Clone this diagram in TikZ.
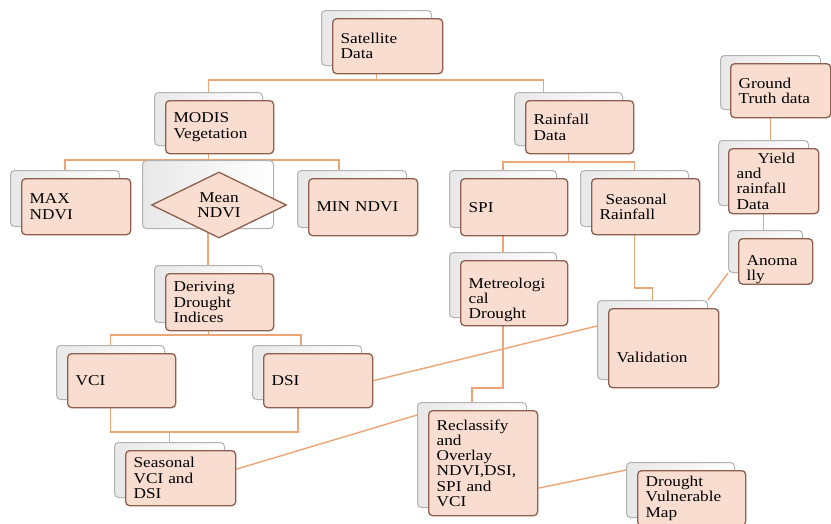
\documentclass[tikz,border=0pt]{standalone}
\usepackage{fontspec}
\setmainfont{Liberation Serif}[FakeStretch=1.15]
\usetikzlibrary{shapes.geometric,positioning,backgrounds}
\definecolor{boxfill}{RGB}{249,221,208}
\definecolor{boxline}{RGB}{140,96,76}
\definecolor{connline}{RGB}{236,165,118}
\newcommand{\boxfont}{\fontsize{15}{15.3}\selectfont}
\begin{document}
\begin{tikzpicture}[x=1pt,y=-1pt,
    conn/.style={draw=connline, line width=1.4pt},
    backbox/.style 2 args={draw=black!30, left color=black!9, right color=white, rounded corners=4pt, line width=1pt,
        anchor=north west, inner sep=0pt, minimum width=#1pt, minimum height=#2pt},
    mainbox/.style 2 args={draw=boxline, fill=boxfill, rounded corners=4pt, line width=1.3pt,
        anchor=north west, inner xsep=8pt, inner ysep=0pt, align=left, font=\boxfont,
        minimum width=#1pt, minimum height=#2pt, text width=#1pt-16pt},
    meanbox/.style={diamond, aspect=2, draw=boxline, fill=boxfill, line width=1.3pt,
        minimum width=135pt, minimum height=66pt, inner sep=0pt, align=center, font=\boxfont}]
    \useasboundingbox (0,0) rectangle (831,523);

    % top level
    \node[backbox={110}{55}] (satb) at (321,10) {};
    \node[mainbox={110}{55}, below right=8pt and 11pt of satb.north west] (sat) {Satellite\\Data};

    % vegetation side
    \node[backbox={108}{53}] (modisb) at (154,92) {};
    \node[mainbox={108}{53}, below right=8pt and 11pt of modisb.north west] (modis) {MODIS\\Vegetation};
    \node[backbox={109}{56}] (maxb) at (10,170) {};
    \node[mainbox={109}{56}, below right=8pt and 11pt of maxb.north west] (maxn) {MAX\\NDVI};
    \node[backbox={131}{68}] (meanb) at (142,160) {};
    \node[meanbox] (mean) at (219,205) {Mean\\NDVI};
    \node[backbox={109}{57}] (minb) at (297,170) {};
    \node[mainbox={109}{57}, below right=8pt and 11pt of minb.north west] (minn) {MIN NDVI};
    \node[backbox={108}{57}] (deriveb) at (154,265) {};
    \node[mainbox={108}{57}, below right=8pt and 11pt of deriveb.north west] (derive) {Deriving\\Drought\\Indices};
    \node[backbox={108}{54}] (vcib) at (56,345) {};
    \node[mainbox={108}{54}, below right=8pt and 11pt of vcib.north west] (vci) {VCI};
    \node[backbox={109}{54}] (dsib) at (252,345) {};
    \node[mainbox={109}{54}, below right=8pt and 11pt of dsib.north west] (dsi) {DSI};
    \node[backbox={110}{55}] (svcib) at (114,442) {};
    \node[mainbox={110}{55}, below right=8pt and 11pt of svcib.north west] (svci) {Seasonal\\VCI and\\DSI};

    % rainfall side
    \node[backbox={108}{53}] (rainb) at (514,92) {};
    \node[mainbox={108}{53}, below right=8pt and 11pt of rainb.north west] (rain) {Rainfall\\Data};
    \node[backbox={107}{57}] (spib) at (449,170) {};
    \node[mainbox={107}{57}, below right=8pt and 11pt of spib.north west] (spi) {SPI};
    \node[backbox={108}{56}] (srainb) at (580,170) {};
    \node[mainbox={108}{56}, below right=8pt and 11pt of srainb.north west] (srain) {\hspace*{0.4em}Seasonal\\Rainfall};
    \node[backbox={107}{65}] (metrob) at (449,252) {};
    \node[mainbox={107}{65}, below right=8pt and 11pt of metrob.north west] (metro) {\rule{0pt}{24pt}Metreologi\\cal\\Drought};
    \node[backbox={109}{105}] (reclb) at (417,402) {};
    \node[mainbox={109}{105}, below right=8pt and 11pt of reclb.north west] (recl) {Reclassify\\and\\Overlay\\NDVI,DSI,\\SPI and\\VCI};
    \node[backbox={108}{55}] (dvmb) at (626,462) {};
    \node[mainbox={108}{55}, below right=8pt and 11pt of dvmb.north west] (dvm) {Drought\\Vulnerable\\Map};

    % ground data side
    \node[backbox={100}{54}] (groundb) at (720,55) {};
    \node[mainbox={100}{54}, below right=8pt and 10pt of groundb.north west] (ground) {Ground\\Truth data};
    \node[backbox={90}{65}] (yieldb) at (718,140) {};
    \node[mainbox={90}{65}, below right=8pt and 10pt of yieldb.north west] (yield) {\hspace*{1.4em}Yield\\and\\rainfall\\Data};
    \node[backbox={74}{42}] (anomb) at (728,230) {};
    \node[mainbox={74}{42}, below right=8pt and 10pt of anomb.north west] (anom) {\rule{0pt}{27pt}Anoma\\lly};
    \node[backbox={110}{79}] (validb) at (597,300) {};
    \node[mainbox={110}{79}, below right=8pt and 11pt of validb.north west] (valid) {\rule{0pt}{28pt}Validation};

    \begin{scope}[on background layer]
        \fill[white] (0,0) rectangle (831,523);
        % tree links
        \draw[conn] (satb.south) |- ([yshift=12pt]modisb.north) -- (modisb.north);
        \draw[conn] (satb.south) |- ([xshift=-25pt,yshift=12pt]rainb.north) -- ([xshift=-25pt]rainb.north);
        \draw[conn] (modisb.south) |- ([yshift=10pt]maxb.north) -- (maxb.north);
        \draw[conn] (modisb.south) |- ([xshift=-13pt,yshift=10pt]minb.north) -- ([xshift=-13pt]minb.north);
        \draw[conn] (modisb.south) -- (modisb.south |- meanb.north);
        \draw[conn] (meanb.south) -- (meanb.south |- deriveb.north);
        \draw[conn] (deriveb.south) |- ([yshift=10pt]vcib.north) -- (vcib.north);
        \draw[conn] (deriveb.south) |- ([xshift=-6pt,yshift=10pt]dsib.north) -- ([xshift=-6pt]dsib.north);
        \draw[conn] (vcib.south) |- ([yshift=10pt]svcib.north) -- (svcib.north);
        \draw[conn] ([xshift=-9pt]dsib.south) |- ([yshift=10pt]svcib.north);
        \draw[conn] (rainb.south) |- ([yshift=8pt]spib.north) -- (spib.north);
        \draw[conn] (rainb.south) |- ([yshift=8pt]srainb.north) -- (srainb.north);
        \draw[conn] (spib.south) -- (spib.south |- metrob.north);
        \draw[conn] (metrob.south) |- ([yshift=14pt]reclb.north) -- (reclb.north);
        \draw[conn] (srainb.south) |- ([yshift=12pt]validb.north) -- (validb.north);
        \draw[conn] (groundb.south) -- (groundb.south |- yieldb.north);
        \draw[conn] (yieldb.south) -- (yieldb.south |- anomb.north);
        % cross links
        \draw[conn] (anomb.south west) -- (validb.north east);
        \draw[conn] (dsi.east) -- ([yshift=14pt]validb.west);
        \draw[conn] ([yshift=9pt]svci.east) -- ([yshift=40pt]reclb.west);
        \draw[conn] ([yshift=-25pt]recl.east) -- ([yshift=20pt]dvmb.west);
    \end{scope}
\end{tikzpicture}
\end{document}
